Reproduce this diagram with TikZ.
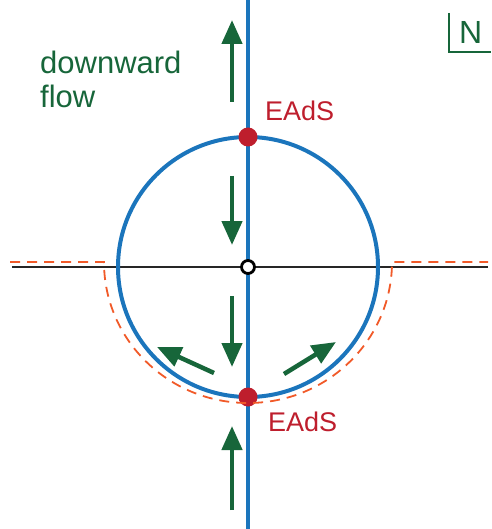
\documentclass[tikz,border=0pt]{standalone}
\usepackage{fontspec}
\setmainfont{Liberation Sans}
\usetikzlibrary{arrows.meta}
\definecolor{cblue}{HTML}{1B75BC}
\definecolor{cgreen}{HTML}{17663A}
\definecolor{cred}{HTML}{BE1E2D}
\definecolor{corange}{HTML}{F15A29}
\begin{document}
\begin{tikzpicture}[x=1pt,y=-1pt,
  flow/.style={draw=cgreen,line width=4.5pt,-{Triangle[length=24pt,width=20pt]}},
  pt/.style={circle,fill=cred,inner sep=0pt,minimum size=19pt},
  lab/.style={text=cred,font=\fontsize{27}{30}\selectfont,anchor=base west,inner sep=0pt},
  gtxt/.style={text=cgreen,font=\fontsize{31}{34}\selectfont,anchor=base west,inner sep=0pt}]
\useasboundingbox (0,0) rectangle (491,529);
\coordinate (O) at (248,267);
% horizontal black
\coordinate (hl) at (12,267);
\coordinate (hr) at (488,267);
\draw[black!85,line width=2.2pt] (hl) -- (hr);
% vertical blue
\coordinate (vt) at (248,0);
\coordinate (vb) at (248,529);
\draw[cblue,line width=4pt] (vt) -- (vb);
% circle
\draw[cblue,line width=4pt] (O) circle[radius=130];
% centre
\node[circle,draw=black,fill=white,line width=2.8pt,minimum size=13pt,inner sep=0pt] (c) at (O) {};
% red points
\node[pt] (top) at (248,137) {};
\node[pt] (bot) at (248,397) {};
% dashed orange
\draw[corange,line width=1.8pt,dash pattern=on 10pt off 7pt] (10,262) -- (104,262) arc[start angle=180,end angle=0,x radius=144,y radius=141] -- (488,262);
\node[lab] (ltop) at (265,121) {EAdS};
\node[lab] (lbot) at (268,431) {EAdS};
% arrows
\coordinate (a1s) at (232,102); \coordinate (a1e) at (232,20);
\coordinate (a2s) at (232,176); \coordinate (a2e) at (232,245);
\coordinate (a3s) at (232,296); \coordinate (a3e) at (232,367);
\coordinate (a4s) at (214,373); \coordinate (a4e) at (157,347);
\coordinate (a5s) at (284,374); \coordinate (a5e) at (336,342);
\coordinate (a6s) at (232,510); \coordinate (a6e) at (232,426);
\draw[flow] (a1s) -- (a1e);
\draw[flow] (a2s) -- (a2e);
\draw[flow] (a3s) -- (a3e);
\draw[flow] (a4s) -- (a4e);
\draw[flow] (a5s) -- (a5e);
\draw[flow] (a6s) -- (a6e);
% text
\node[gtxt] (df1) at (40,74) {downward};
\node[gtxt] (df2) at (40,108) {flow};
% N box
\coordinate (n1) at (449,13);
\coordinate (n2) at (449,52);
\coordinate (n3) at (491,52);
\draw[cgreen,line width=1.5pt] (n1) -- (n2) -- (n3);
\node[text=cgreen,font=\fontsize{32}{34}\selectfont,anchor=base west,inner sep=0pt] (N) at (459,44) {N};
\end{tikzpicture}
\end{document}
